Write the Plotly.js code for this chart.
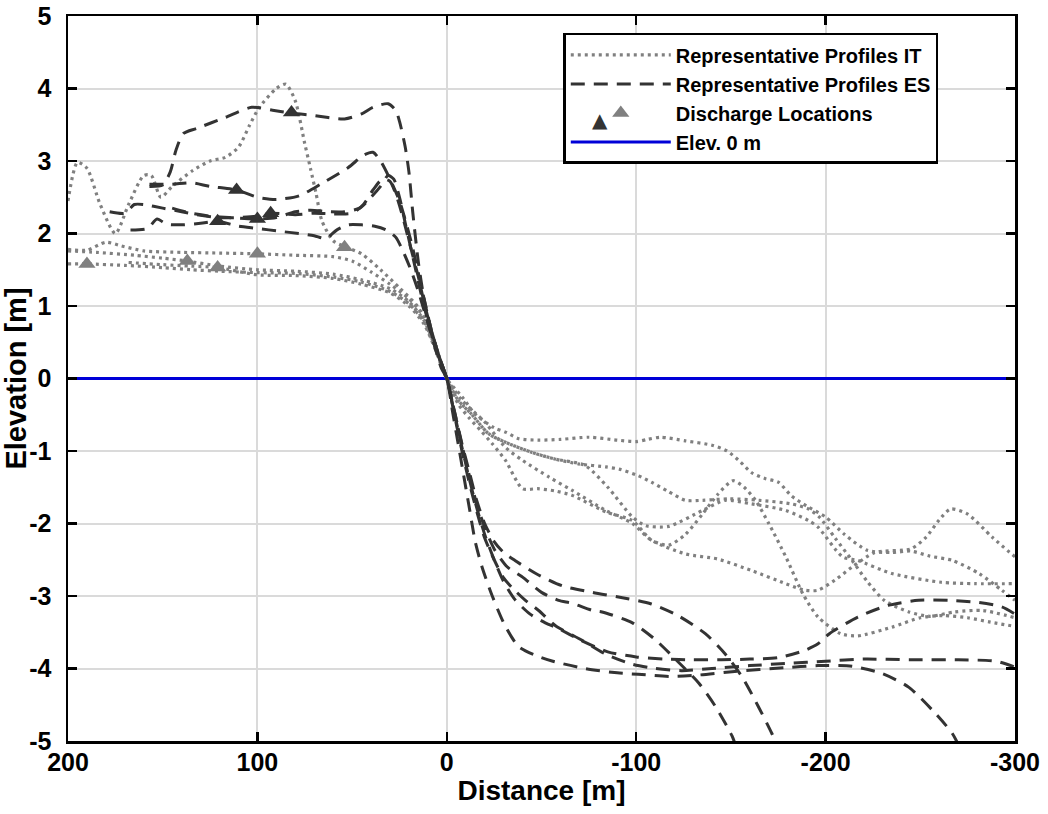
<!DOCTYPE html>
<html>
<head>
<meta charset="utf-8">
<script src="https://cdn.plot.ly/plotly-3.0.1.min.js"></script>
<style>html,body{margin:0;padding:0;background:#fff;}#chart{width:1048px;height:814px;}</style>
</head>
<body>
<div id="chart"></div>
<script>
// ---------- Representative profiles IT (dotted) ----------
const it1X = [200,195,190,183,175,168,160,156,151,145,134,125,117,110,104,99,90,85,80,75,72,69,66,60,53,45,35,25,15,8,0,-8,-15,-25,-31,-38,-48,-60,-75,-90,-100,-106,-113,-126,-140,-148,-155,-161,-168,-175,-182,-190,-200,-210,-222,-235,-245,-255,-267,-281,-293,-300];
const it1Y = [2.45,2.98,2.9,2.4,2.0,2.4,2.8,2.8,2.5,2.65,2.87,3.0,3.05,3.19,3.5,3.74,4.0,4.06,3.83,3.24,2.9,2.55,2.18,1.9,1.81,1.72,1.5,1.25,0.98,0.55,0,-0.25,-0.49,-0.68,-0.74,-0.83,-0.85,-0.84,-0.81,-0.85,-0.87,-0.84,-0.81,-0.86,-0.92,-1.0,-1.15,-1.3,-1.38,-1.43,-1.62,-1.76,-1.91,-2.15,-2.37,-2.4,-2.38,-2.45,-2.51,-2.69,-2.92,-3.06];

const it2X = [200,190,180,172,160,140,120,100,80,60,50,40,30,20,12,6,0,-6,-13,-22,-31,-45,-57,-70,-84,-91,-101,-108,-117,-126,-135,-149,-165,-182,-191,-197,-205,-214,-222,-231,-244,-255,-268,-283,-300];
const it2Y = [1.78,1.77,1.88,1.83,1.76,1.74,1.73,1.72,1.7,1.68,1.62,1.47,1.3,1.1,0.85,0.45,0,-0.3,-0.49,-0.76,-0.88,-1.02,-1.11,-1.18,-1.22,-1.25,-1.34,-1.43,-1.56,-1.68,-1.68,-1.66,-1.68,-1.73,-1.8,-1.92,-2.2,-2.51,-2.8,-3.06,-3.22,-3.28,-3.22,-3.2,-3.3];

const it3X = [200,190,170,150,135,120,100,80,60,45,30,20,12,6,0,-6,-12,-18,-24,-31,-40,-48,-57,-66,-84,-98,-108,-117,-126,-135,-143,-151,-157,-163,-170,-179,-188,-196,-208,-217,-235,-250,-262,-275,-287,-300];
const it3Y = [1.58,1.58,1.56,1.53,1.5,1.48,1.46,1.45,1.4,1.33,1.2,1.03,0.78,0.42,0,-0.35,-0.55,-0.72,-0.9,-1.13,-1.52,-1.52,-1.55,-1.61,-1.84,-1.96,-2.23,-2.3,-2.15,-1.87,-1.6,-1.41,-1.5,-1.68,-2.0,-2.46,-2.97,-3.29,-3.52,-3.55,-3.43,-3.3,-3.27,-3.3,-3.36,-3.42];

const it4X = [200,185,165,150,137,120,100,80,60,45,30,20,12,6,0,-6,-13,-22,-31,-45,-57,-73,-85,-98,-105,-117,-135,-147,-161,-179,-191,-196,-209,-217,-235,-261,-279,-300];
const it4Y = [1.76,1.74,1.7,1.66,1.62,1.55,1.5,1.48,1.44,1.36,1.24,1.06,0.8,0.42,0,-0.3,-0.49,-0.76,-0.88,-1.02,-1.11,-1.2,-1.5,-1.91,-2.03,-2.04,-1.82,-1.68,-1.73,-1.82,-1.96,-2.05,-2.46,-2.51,-2.69,-2.81,-2.83,-2.83];

const it5X = [168,150,135,121,100,80,60,45,30,20,12,6,0,-8,-20,-31,-40,-54,-66,-84,-98,-108,-126,-143,-161,-179,-189,-196,-205,-214,-226,-245,-253,-260,-266,-275,-288,-300];
const it5Y = [1.6,1.57,1.55,1.53,1.43,1.42,1.38,1.3,1.18,1.0,0.75,0.4,0,-0.3,-0.6,-0.95,-1.13,-1.36,-1.54,-1.82,-2.0,-2.23,-2.42,-2.49,-2.65,-2.83,-2.92,-2.92,-2.78,-2.6,-2.4,-2.35,-2.19,-1.95,-1.8,-1.87,-2.19,-2.46];

// ---------- Representative profiles ES (dashed) ----------
const es1X = [157,150,146,143,139,132,117,103,92,82,71,54,45,39,31,27,25,22,20,18,15,12,8,4,0,-4,-8,-12,-16,-20,-25,-30,-36,-47,-61,-77,-92,-108,-122,-136.5,-147,-156,-164.6,-171.7,-175];
const es1Y = [2.65,2.67,2.85,3.15,3.38,3.45,3.6,3.74,3.7,3.66,3.63,3.58,3.65,3.74,3.79,3.7,3.55,3.2,2.85,2.3,1.6,1.1,0.65,0.3,0,-0.45,-0.9,-1.3,-1.7,-2.0,-2.25,-2.4,-2.51,-2.69,-2.86,-2.95,-3.02,-3.11,-3.27,-3.52,-3.8,-4.12,-4.53,-4.9,-5.1];

const es2X = [157,145,135,125,111,100,90,78,66,52,44,39,35,30,25,21,18,15,12,8,4,0,-4,-8,-12,-16,-20,-25,-32,-40,-50,-59,-66,-77,-82,-98,-110,-121,-133,-142,-150.6,-153];
const es2Y = [2.68,2.68,2.7,2.65,2.6,2.5,2.47,2.52,2.69,2.91,3.08,3.12,3.0,2.75,2.45,2.1,1.8,1.45,1.1,0.65,0.3,0,-0.45,-0.92,-1.35,-1.75,-2.05,-2.35,-2.6,-2.74,-2.95,-3.06,-3.1,-3.2,-3.22,-3.37,-3.6,-3.88,-4.2,-4.53,-4.93,-5.1];

const es3X = [178,170,165,160,150,140,130,121,110,100,93,80,70,60,50,44,39,34,30,27,24,21,18,15,12,8,4,0,-4,-8,-12,-16,-20,-25,-30,-35,-41.5,-48.5,-57.4,-71.4,-83.7,-97.8,-110,-124,-140,-160,-180,-200,-220,-245,-270,-290,-300];
const es3Y = [2.3,2.28,2.4,2.4,2.35,2.3,2.25,2.22,2.22,2.24,2.28,2.26,2.28,2.27,2.28,2.4,2.6,2.75,2.72,2.55,2.3,2.0,1.7,1.4,1.05,0.65,0.3,0,-0.5,-1.0,-1.45,-1.85,-2.2,-2.5,-2.75,-2.9,-3.06,-3.2,-3.41,-3.61,-3.8,-3.94,-4.0,-4.03,-4.0,-3.96,-3.93,-3.9,-3.87,-3.88,-3.88,-3.9,-3.98];

const es4X = [167,158,153,148,140,130,121,110,100,88,78,70,64,58,52,45,38,32,27,23,19,15,11,7,3,0,-3,-6,-9,-12,-15,-18.6,-24,-30.6,-38,-47,-56,-73,-90,-101,-119,-133,-152,-178,-196,-214,-230,-244,-258,-267,-271];
const es4Y = [2.05,2.07,2.2,2.13,2.12,2.14,2.17,2.1,2.07,2.03,2.0,1.97,1.93,2.05,2.12,2.12,2.1,2.05,1.95,1.75,1.5,1.2,0.85,0.5,0.15,0,-0.45,-0.9,-1.35,-1.8,-2.25,-2.6,-3.0,-3.4,-3.7,-3.82,-3.9,-4.0,-4.06,-4.08,-4.11,-4.09,-4.04,-3.99,-3.96,-3.97,-4.07,-4.26,-4.62,-4.9,-5.1];

const es5X = [145,135,125,115,100,90,80,72,62,54,46,40,35,31,28,25,22,19,16,13,9,5,0,-4,-8,-12,-16,-20,-25,-30,-36,-44,-52,-59,-70,-85,-100,-115,-130,-145,-160,-175,-189,-196,-202,-217,-233,-249,-265,-281,-293,-300];
const es5Y = [2.35,2.28,2.24,2.22,2.2,2.22,2.3,2.32,2.3,2.3,2.35,2.5,2.65,2.8,2.75,2.5,2.15,1.8,1.45,1.1,0.7,0.35,0,-0.48,-0.95,-1.4,-1.8,-2.15,-2.5,-2.8,-3.05,-3.25,-3.37,-3.45,-3.6,-3.77,-3.84,-3.87,-3.88,-3.88,-3.87,-3.85,-3.75,-3.66,-3.52,-3.29,-3.13,-3.06,-3.06,-3.09,-3.15,-3.25];

// ---------- Discharge locations ----------
const dischargeEsX = [111,121,100,93,82];
const dischargeEsY = [2.6,2.17,2.2,2.28,3.67];
const dischargeItX = [190,137,121,100,54];
const dischargeItY = [1.58,1.62,1.53,1.72,1.81];

// ---------- Reference elevation ----------
const zeroLineX = [200,-300];
const zeroLineY = [0,0];

const xTicks = [200,100,0,-100,-200,-300];
const yTicks = [-5,-4,-3,-2,-1,0,1,2,3,4,5];

const IT_COLOR = '#808080';
const ES_COLOR = '#333333';
const FONT = 'Liberation Sans, Arial, Helvetica, sans-serif';

const traces = [];
traces.push({x: zeroLineX, y: zeroLineY, mode: 'lines', name: 'Elev. 0 m', legendrank: 4,
  line: {color: '#0000d8', width: 3}});

const itSets = [[it1X,it1Y],[it2X,it2Y],[it3X,it3Y],[it4X,it4Y],[it5X,it5Y]];
itSets.forEach((s,i) => traces.push({x: s[0], y: s[1], mode: 'lines', name: 'Representative Profiles IT',
  legendgroup: 'it', showlegend: i === 0, legendrank: 1,
  line: {color: IT_COLOR, width: 3.2, dash: '3px,4px', shape: 'spline', smoothing: 0.7}}));

const esSets = [[es1X,es1Y],[es2X,es2Y],[es3X,es3Y],[es4X,es4Y],[es5X,es5Y]];
esSets.forEach((s,i) => traces.push({x: s[0], y: s[1], mode: 'lines', name: 'Representative Profiles ES',
  legendgroup: 'es', showlegend: i === 0, legendrank: 2,
  line: {color: ES_COLOR, width: 3, dash: '14px,9px', shape: 'spline', smoothing: 0.7}}));

traces.push({x: dischargeEsX, y: dischargeEsY, mode: 'markers', name: 'Discharge Locations ES', showlegend: false,
  marker: {symbol: 'triangle-up', size: 15, color: ES_COLOR}});
traces.push({x: dischargeItX, y: dischargeItY, mode: 'markers', name: 'Discharge Locations', legendrank: 3,
  marker: {symbol: 'triangle-up', size: 15, color: IT_COLOR}});

const axisCommon = {
  showline: true, linecolor: '#000', linewidth: 2.5, mirror: 'ticks',
  ticks: 'inside', ticklen: 9, tickwidth: 2.5, tickcolor: '#000',
  showgrid: true, gridcolor: '#dadada', gridwidth: 2, zeroline: false,
  tickfont: {family: FONT, size: 25, color: '#000', weight: 'bold'}
};

const layout = {
  width: 1048, height: 814,
  margin: {l: 68, r: 33, t: 16, b: 73},
  paper_bgcolor: '#fff', plot_bgcolor: '#fff',
  showlegend: true,
  xaxis: Object.assign({}, axisCommon, {range: [200,-300], tickvals: xTicks, ticktext: xTicks.map(String),
    ticklabelstandoff: -3,
    title: {text: 'Distance [m]', font: {family: FONT, size: 28, color: '#000', weight: 'bold'}, standoff: 0}}),
  yaxis: Object.assign({}, axisCommon, {range: [-5,5], tickvals: yTicks, ticktext: yTicks.map(String),
    ticklabelstandoff: 9,
    title: {text: 'Elevation [m]', font: {family: FONT, size: 29, color: '#000', weight: 'bold'}, standoff: 0}}),
  legend: {x: 0.523, y: 0.9766, xanchor: 'left', yanchor: 'top', bgcolor: '#fff', bordercolor: '#000', borderwidth: 2.5,
    font: {family: FONT, size: 20, color: '#000', weight: 'bold'}, tracegroupgap: 0, itemwidth: 100},
  annotations: [{xref: 'paper', yref: 'paper', x: 0.5618, y: 0.857, xanchor: 'center', yanchor: 'middle',
    text: '\u25B2', showarrow: false, font: {family: 'DejaVu Sans', size: 20, color: ES_COLOR}}]
};

Plotly.newPlot('chart', traces, layout, {displayModeBar: false, staticPlot: true});
</script>
</body>
</html>
